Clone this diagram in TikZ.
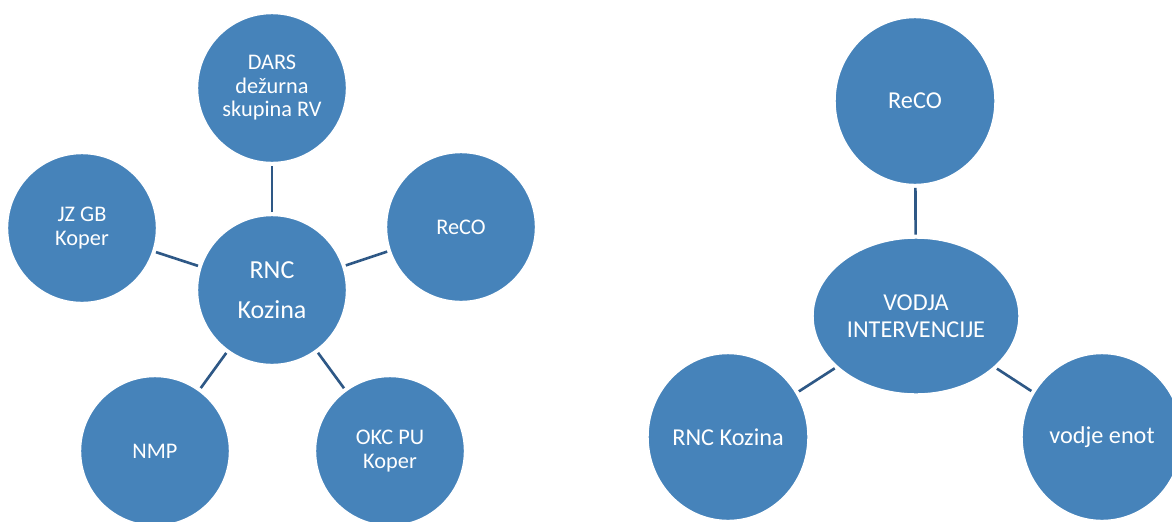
\documentclass[tikz,border=0pt]{standalone}
\usepackage{fontspec}
\setmainfont{Carlito}
\usetikzlibrary{shapes.geometric,backgrounds}
\definecolor{nodeblue}{RGB}{70,131,186}
\definecolor{linkblue}{RGB}{46,88,134}
\begin{document}
\begin{tikzpicture}[x=0.02cm,y=-0.02cm,
  bubble/.style={circle,fill=nodeblue,draw=white,line width=0.8pt,inner sep=0pt,
    minimum size=2.98cm,text=white,align=center,font=\fontsize{12.7}{13.4}\selectfont},
  hubtext/.style={font=\fontsize{14.8}{23}\selectfont},
  rbubble/.style={ellipse,fill=nodeblue,draw=white,line width=0.8pt,inner sep=0pt,
    minimum width=3.2cm,minimum height=3.34cm,text=white,align=center,
    font=\fontsize{13.8}{15.3}\selectfont},
  rhub/.style={rbubble,minimum width=4.12cm,minimum height=3.12cm},
  link/.style={draw=linkblue,line width=1.5pt,shorten <=1.5pt,shorten >=1.5pt}
]
\useasboundingbox (0,0) rectangle (1172,521);

% left diagram
\node[bubble,hubtext] (rnc) at (272,290) {RNC\\Kozina};
\node[bubble] (dars) at (272,88) {DARS\\dežurna\\skupina RV};
\node[bubble] (jz) at (82,228) {JZ GB\\Koper};
\node[bubble] (recoL) at (461,227) {ReCO};
\node[bubble] (nmp) at (155,451) {NMP};
\node[bubble] (okc) at (390,451) {OKC PU\\Koper};

% right diagram
\node[rhub] (vodja) at (916,316) {VODJA\\INTERVENCIJE};
\node[rbubble] (recoR) at (915,101) {ReCO};
\node[rbubble] (rncR) at (728,437) {RNC Kozina};
\node[rbubble] (enot) at (1102,437) {vodje enot};

\begin{scope}[on background layer]
  \fill[white] (0,0) rectangle (1172,521);
  \draw[link] (rnc) -- (dars);
  \draw[link] (rnc) -- (jz);
  \draw[link] (rnc) -- (recoL);
  \draw[link] (rnc) -- (nmp);
  \draw[link] (rnc) -- (okc);
  \draw[link] (vodja) -- (recoR);
  \draw[link] (vodja) -- (rncR);
  \draw[link] (vodja) -- (enot);
\end{scope}
\end{tikzpicture}
\end{document}
